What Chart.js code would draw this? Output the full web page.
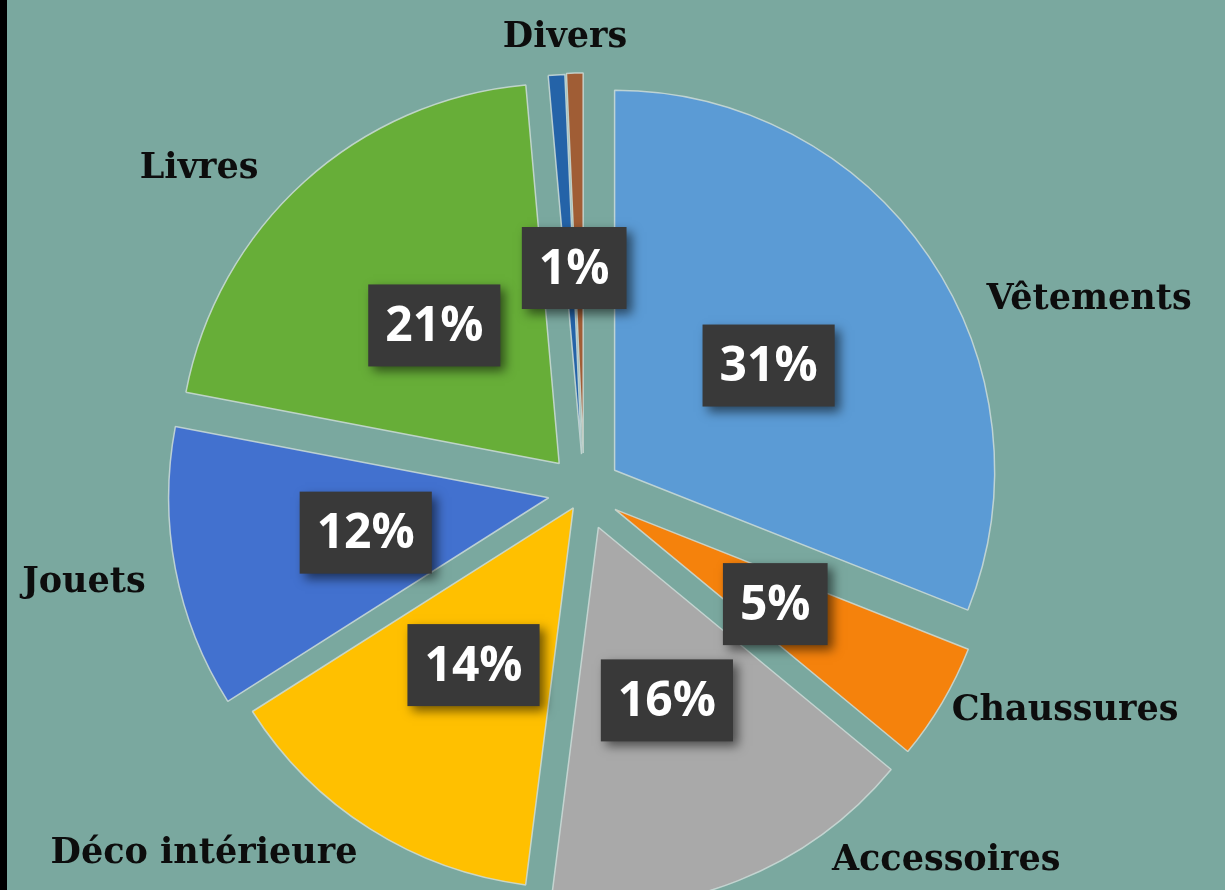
<!DOCTYPE html>
<html><head><meta charset="utf-8">
<script src="https://cdn.jsdelivr.net/npm/chart.js@4.4.1/dist/chart.umd.min.js"></script>
<style>
html,body{margin:0;padding:0;background:#7aa89f;}
#wrap{position:relative;width:1225px;height:890px;overflow:hidden;background:#7aa89f;}
#strip{position:absolute;left:0;top:0;width:7px;height:890px;background:#000;}
canvas{display:block;}
</style></head><body>
<div id="wrap"><canvas id="c" width="1225" height="890"></canvas><div id="strip"></div></div>
<script>
// ---- data ----
const categories = ['Vêtements','Chaussures','Accessoires','Déco intérieure','Jouets','Livres','Divers','Divers'];
const shares = [31, 5, 16, 14, 12, 20.6, 0.7, 0.7];
const sliceColors = ['#5b9bd5','#f5820c','#a9a9a9','#ffc000','#4271cf','#67ae38','#2463a8','#a05d35'];

// ---- layout (not data) ----
const R = 380;                                     // pie radius in px
const explode = [37, 36, 39, 20, 36, 37, 37, 38];  // explode distance per slice, px
const LABEL_FRAC = 0.49;
// category name anchors relative to pie centre, in radius units (x centre, baseline y)
const namePos = {
  'Vêtements': [1.329, -0.479],
  'Chaussures': [1.266, 0.603],
  'Accessoires': [0.953, 0.997],
  'Déco intérieure': [-1.0, 0.979],
  'Jouets': [-1.316, 0.266],
  'Livres': [-1.013, -0.824],
  'Divers': [-0.050, -1.168]
};

// explode slices by moving each arc's centre along its bisector
const explodePlugin = {
  id: 'explodePlugin',
  afterDatasetsUpdate(chart) {
    const a = chart.chartArea;
    const cx = (a.left + a.right) / 2, cy = (a.top + a.bottom) / 2;
    chart.getDatasetMeta(0).data.forEach((arc, i) => {
      const mid = (arc.startAngle + arc.endAngle) / 2;
      arc.x = cx + Math.cos(mid) * explode[i];
      arc.y = cy + Math.sin(mid) * explode[i];
      arc.outerRadius = R;
    });
  }
};

const labelsPlugin = {
  id: 'labelsPlugin',
  afterDatasetsDraw(chart) {
    const ctx = chart.ctx;
    const a = chart.chartArea;
    const cx = (a.left + a.right) / 2, cy = (a.top + a.bottom) / 2;
    const arcs = chart.getDatasetMeta(0).data;
    const total = shares.reduce((s, v) => s + v, 0);
    const groups = [];
    arcs.forEach((arc, i) => {
      const name = categories[i];
      const g = groups[groups.length - 1];
      if (g && g.name === name) { g.end = arc.endAngle; g.sum += shares[i]; }
      else groups.push({name, start: arc.startAngle, end: arc.endAngle, sum: shares[i], off: explode[i]});
    });
    groups.forEach(g => {
      const mid = (g.start + g.end) / 2;
      const d = g.off + R * LABEL_FRAC;
      const lx = cx + Math.cos(mid) * d;
      const ly = cy + Math.sin(mid) * d;
      const txt = Math.round(g.sum / total * 100) + '%';
      ctx.save();
      ctx.font = 'bold 48px "Open Sans"';
      const w = ctx.measureText(txt).width + 34;
      const h = 82;
      ctx.shadowColor = 'rgba(0,0,0,0.55)';
      ctx.shadowBlur = 10;
      ctx.shadowOffsetX = 5;
      ctx.shadowOffsetY = 5;
      ctx.fillStyle = '#393939';
      ctx.fillRect(lx - w / 2, ly - h / 2, w, h);
      ctx.shadowColor = 'transparent';
      ctx.fillStyle = '#ffffff';
      ctx.textAlign = 'center';
      ctx.textBaseline = 'middle';
      ctx.fillText(txt, lx, ly + 2);
      ctx.restore();

      const p = namePos[g.name];
      if (p) {
        ctx.save();
        ctx.font = 'bold 35px "DejaVu Serif"';
        ctx.fillStyle = '#0d0d0d';
        ctx.textAlign = 'center';
        ctx.textBaseline = 'alphabetic';
        ctx.fillText(g.name, cx + p[0] * R, cy + p[1] * R);
        ctx.restore();
      }
    });
  }
};

new Chart(document.getElementById('c'), {
  type: 'pie',
  data: {
    labels: categories,
    datasets: [{
      data: shares,
      backgroundColor: sliceColors,
      borderColor: 'rgba(205,220,216,0.85)',
      borderWidth: 1.5,
      offset: 0,
      hoverOffset: 0,
      radius: R
    }]
  },
  options: {
    responsive: false,
    animation: false,
    events: [],
    radius: R,
    layout: { padding: { left: 0, right: 57, top: 92, bottom: 0 } },
    plugins: { legend: { display: false }, tooltip: { enabled: false } }
  },
  plugins: [explodePlugin, labelsPlugin]
});
</script>
</body></html>
